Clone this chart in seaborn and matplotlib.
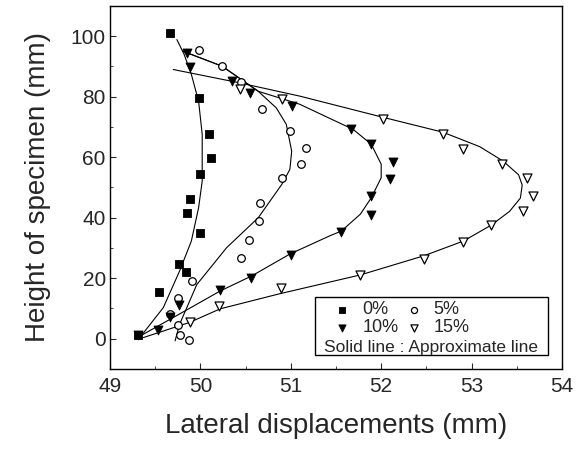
import matplotlib
matplotlib.use("Agg")
import matplotlib.pyplot as plt
from matplotlib.patches import Rectangle
from matplotlib.ticker import MultipleLocator
import seaborn as sns

# ---- measured points ----
x0 = [49.31, 49.54, 49.84, 49.76, 50.00, 49.85, 49.88, 50.00, 50.12, 50.10, 49.99, 49.66]
y0 = [1.3, 15.6, 21.9, 24.6, 35.0, 41.7, 46.1, 54.5, 59.8, 67.8, 79.6, 101.1]

x5 = [49.87, 49.77, 49.75, 49.66, 49.75, 49.91, 50.45, 50.54, 50.65, 50.66, 50.90,
      51.11, 51.17, 50.99, 50.68, 50.45, 50.24, 49.98]
y5 = [-0.4, 1.3, 4.6, 8.2, 13.6, 19.1, 26.6, 32.6, 38.9, 45.0, 53.2,
      57.7, 63.1, 68.6, 75.8, 84.8, 90.1, 95.6]

x10 = [49.31, 49.53, 49.66, 49.76, 50.22, 50.56, 51.00, 51.56, 51.89, 51.89,
       52.10, 52.13, 51.89, 51.67, 51.01, 50.55, 50.35, 49.88, 49.85]
y10 = [1.3, 2.9, 7.3, 11.2, 16.1, 20.2, 27.7, 35.4, 40.9, 47.2,
       52.9, 58.5, 64.5, 69.5, 76.9, 81.3, 85.1, 89.8, 94.3]

x15 = [49.88, 50.21, 50.89, 51.77, 52.47, 52.91, 53.22, 53.57, 53.68, 53.61,
       53.34, 52.90, 52.68, 52.02, 50.90, 50.44]
y15 = [5.4, 10.9, 16.7, 21.1, 26.3, 32.1, 37.6, 42.2, 47.2, 53.0,
       57.7, 62.6, 67.8, 72.5, 79.1, 82.7]

# ---- approximate lines ----
cx0 = [49.33, 49.59, 49.77, 49.90, 49.98, 50.02, 50.02, 49.98, 49.90, 49.82, 49.74]
cy0 = [0.4, 10.3, 22.4, 32.3, 43.3, 52.1, 67.6, 78.5, 87.4, 94.0, 98.9]

cx5 = [49.72, 49.77, 49.96, 50.29, 50.64, 50.90, 50.99, 51.01, 50.95, 50.84, 50.64, 50.24, 49.81]
cy5 = [-0.7, 4.8, 17.9, 30.1, 40.0, 51.0, 56.0, 62.0, 70.9, 76.3, 81.8, 90.1, 95.0]

cx10 = [49.31, 49.77, 50.22, 50.57, 50.99, 51.43, 51.56, 51.77, 51.89, 52.00,
        52.00, 51.89, 51.69, 51.10, 50.64, 50.24, 49.81]
cy10 = [0.5, 8.2, 15.8, 20.8, 28.0, 34.0, 35.6, 41.2, 46.6, 53.2,
        57.7, 64.3, 69.2, 77.5, 81.8, 90.1, 95.0]

cx15 = [49.37, 49.88, 50.22, 50.88, 51.77, 52.47, 52.91, 53.22, 53.42, 53.54,
        53.56, 53.52, 53.35, 53.09, 52.68, 52.02, 51.10, 50.40, 49.70]
cy15 = [0.4, 5.4, 9.9, 14.9, 21.1, 27.4, 32.3, 37.6, 42.1, 46.5,
        50.8, 54.2, 58.7, 63.5, 68.3, 73.2, 80.2, 84.8, 89.0]

xticks = [49, 50, 51, 52, 53, 54]
yticks = [0, 20, 40, 60, 80, 100]

sns.set_style("ticks")
plt.rcParams["font.family"] = ["Liberation Sans", "DejaVu Sans"]

fig = plt.figure(figsize=(5.82, 4.5), dpi=100)
ax = fig.add_axes([0.189, 0.18, 0.7766, 0.8067])

lw = 0.8
for cx, cy in [(cx0, cy0), (cx5, cy5), (cx10, cy10), (cx15, cy15)]:
    sns.lineplot(x=cx, y=cy, sort=False, estimator=None, color="black",
                 linewidth=lw, legend=False, ax=ax, zorder=2)

ms = 30
sns.scatterplot(x=x0, y=y0, marker="s", s=ms, color="black", edgecolor="black",
                linewidth=0.6, label="0%", ax=ax, zorder=4)
sns.scatterplot(x=x5, y=y5, marker="o", s=ms, color="white", edgecolor="black",
                linewidth=0.9, label="5%", ax=ax, zorder=4)
sns.scatterplot(x=x10, y=y10, marker="v", s=ms + 12, color="black", edgecolor="black",
                linewidth=0.6, label="10%", ax=ax, zorder=4)
sns.scatterplot(x=x15, y=y15, marker="v", s=ms + 12, color="white", edgecolor="black",
                linewidth=0.9, label="15%", ax=ax, zorder=4)

ax.set_xlim(49, 54)
ax.set_ylim(-10, 110)
ax.set_xticks(xticks)
ax.set_yticks(yticks)
ax.set_xticklabels([str(v) for v in xticks])
ax.set_yticklabels([str(v) for v in yticks])
ax.xaxis.set_minor_locator(MultipleLocator(0.5))
ax.yaxis.set_minor_locator(MultipleLocator(10))
ax.tick_params(which="major", direction="in", length=4, width=0.8, labelsize=15,
               top=False, right=False)
ax.tick_params(axis="y", which="major", pad=3)
ax.tick_params(axis="x", which="major", pad=6)
ax.tick_params(which="minor", direction="in", length=2, width=0.6, top=False, right=False)
for sp in ax.spines.values():
    sp.set_linewidth(1.0)
    sp.set_color("black")

ax.set_xlabel("Lateral displacements (mm)", fontsize=20, labelpad=12)
ax.set_ylabel("Height of specimen (mm)", fontsize=20, labelpad=14)

# legend box
ax.add_patch(Rectangle((0.4535, 0.0386), 0.5155, 0.1597, transform=ax.transAxes,
                       facecolor="white", edgecolor="black", linewidth=1.0, zorder=5))
handles, labels = ax.get_legend_handles_labels()
order = [0, 2, 1, 3]
leg = ax.legend([handles[i] for i in order], [labels[i] for i in order],
                ncol=2, loc="upper left", bbox_to_anchor=(0.49, 0.186),
                frameon=False, fontsize=13, handletextpad=0.5, columnspacing=0.25,
                labelspacing=0.05, borderaxespad=0, borderpad=0, markerscale=0.8,
                handlelength=1.2)
leg.set_zorder(6)
ax.text(0.7112, 0.06, "Solid line : Approximate line", transform=ax.transAxes,
        ha="center", va="center", fontsize=12.5, zorder=7)

fig.savefig("out.png", dpi=100)
